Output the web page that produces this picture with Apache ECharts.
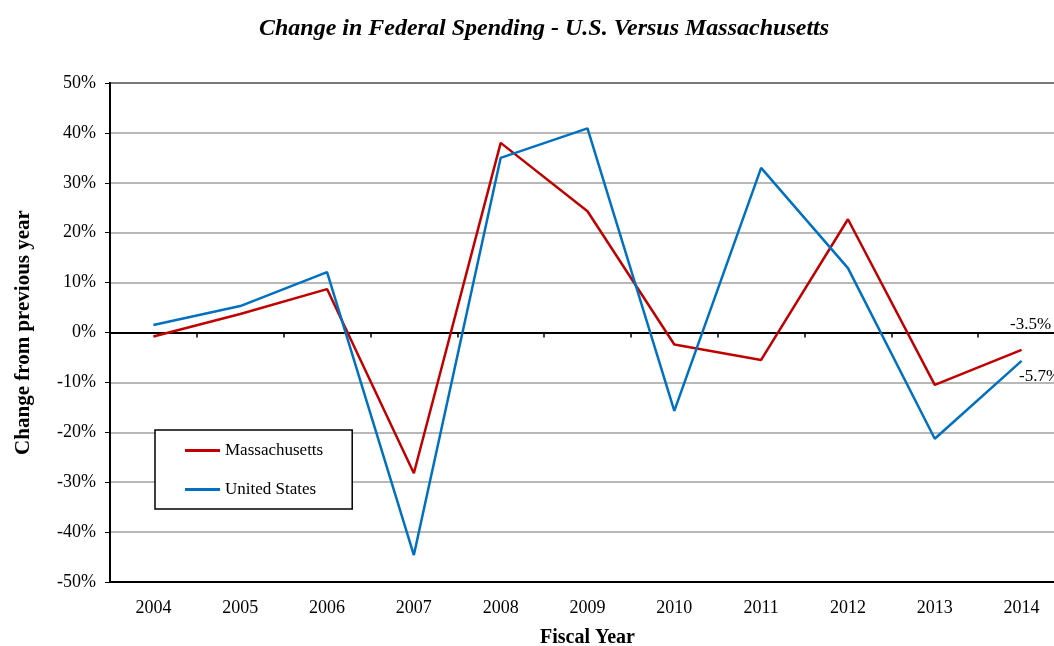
<!DOCTYPE html>
<html>
<head>
<meta charset="utf-8">
<title>Change in Federal Spending - U.S. Versus Massachusetts</title>
<script src="https://cdn.jsdelivr.net/npm/echarts@6/dist/echarts.min.js"></script>
<style>
  html, body { margin: 0; padding: 0; background: #ffffff; overflow: hidden; }
  #chart { width: 1054px; height: 646px; }
</style>
</head>
<body>
<div id="chart"></div>
<script>
// Fiscal years on the horizontal axis
const years = ['2004', '2005', '2006', '2007', '2008', '2009', '2010', '2011', '2012', '2013', '2014'];

// Year-over-year change in federal spending, percent
const massachusetts = [-0.8, 3.7, 8.7, -28.2, 38.0, 24.3, -2.4, -5.5, 22.7, -10.5, -3.5];
const unitedStates = [1.5, 5.3, 12.1, -44.6, 35.0, 40.9, -15.7, 33.0, 12.9, -21.3, -5.7];

// Value axis range and step, percent
const yMin = -50;
const yMax = 50;
const yStep = 10;

const SERIF = '"Liberation Serif", "Times New Roman", "DejaVu Serif", serif';
const RED = '#C00000';
const BLUE = '#0070C0';

// Only the final year carries a value label
function withEndLabel(values, labelStyle) {
  return values.map((v, i) => i === values.length - 1
    ? { value: v, label: Object.assign({ show: true }, labelStyle) }
    : v);
}

const chart = echarts.init(document.getElementById('chart'), null, { renderer: 'canvas' });

chart.setOption({
  backgroundColor: '#ffffff',
  animation: false,
  textStyle: { fontFamily: SERIF },
  title: {
    text: 'Change in Federal Spending - U.S. Versus Massachusetts',
    left: 539,
    top: 12,
    textAlign: 'center',
    textStyle: {
      fontFamily: SERIF,
      fontSize: 24,
      fontWeight: 'bold',
      fontStyle: 'italic',
      color: '#000000'
    }
  },
  legend: {
    orient: 'vertical',
    left: 155,
    top: 430,
    padding: [11, 29, 10, 30],
    itemGap: 20,
    itemWidth: 35,
    itemHeight: 3,
    icon: 'rect',
    borderColor: '#000000',
    borderWidth: 1.5,
    backgroundColor: '#ffffff',
    data: ['Massachusetts', 'United States'],
    textStyle: {
      fontFamily: SERIF,
      fontSize: 17,
      lineHeight: 19,
      color: '#000000'
    }
  },
  grid: {
    // the plot area runs a little past the right edge of the canvas
    left: 110,
    top: 83,
    width: 955,
    height: 499,
    outerBoundsMode: 'none',
    show: true,
    borderColor: '#000000',
    borderWidth: 2,
    backgroundColor: 'transparent'
  },
  xAxis: [
    {
      type: 'category',
      data: years,
      position: 'bottom',
      boundaryGap: true,
      name: 'Fiscal Year',
      nameLocation: 'middle',
      nameGap: 46,
      nameTextStyle: { fontFamily: SERIF, fontSize: 20, fontWeight: 'bold', color: '#000000' },
      axisLine: { show: true, onZero: false, lineStyle: { color: '#000000', width: 2 } },
      axisTick: { show: false },
      axisLabel: { fontFamily: SERIF, fontSize: 18, color: '#000000', margin: 17 }
    },
    {
      // zero line with category dividers
      type: 'category',
      data: years,
      position: 'top',
      boundaryGap: true,
      axisLine: { show: true, onZero: true, lineStyle: { color: '#000000', width: 2 } },
      axisTick: { show: true, inside: true, length: 5, lineStyle: { color: '#000000', width: 1.5 } },
      axisLabel: { show: false }
    }
  ],
  yAxis: {
    type: 'value',
    min: yMin,
    max: yMax,
    interval: yStep,
    name: 'Change from previous year',
    nameLocation: 'middle',
    nameGap: 76,
    nameTextStyle: { fontFamily: SERIF, fontSize: 21, fontWeight: 'bold', color: '#000000' },
    axisLine: { show: true, lineStyle: { color: '#000000', width: 2 } },
    axisTick: { show: true, length: 5, lineStyle: { color: '#000000', width: 1 } },
    axisLabel: {
      fontFamily: SERIF,
      fontSize: 18,
      color: '#000000',
      margin: 14,
      formatter: '{value}%'
    },
    splitLine: { show: true, lineStyle: { color: '#a0a0a0', width: 1.5 } }
  },
  series: [
    {
      name: 'Massachusetts',
      type: 'line',
      xAxisIndex: 0,
      data: withEndLabel(massachusetts, {
        position: 'top',
        offset: [9, -12],
        formatter: '{c}%',
        fontFamily: SERIF,
        fontSize: 17,
        color: '#000000'
      }),
      showSymbol: true,
      symbol: 'circle',
      symbolSize: 0.5,
      itemStyle: { color: RED },
      lineStyle: { color: RED, width: 2.5 },
      color: RED,
      z: 3
    },
    {
      name: 'United States',
      type: 'line',
      xAxisIndex: 0,
      data: withEndLabel(unitedStates, {
        position: 'bottom',
        offset: [18, 2],
        formatter: '{c}%',
        fontFamily: SERIF,
        fontSize: 17,
        color: '#000000'
      }),
      showSymbol: true,
      symbol: 'circle',
      symbolSize: 0.5,
      itemStyle: { color: BLUE },
      lineStyle: { color: BLUE, width: 2.5 },
      color: BLUE,
      z: 4
    }
  ]
});
</script>
</body>
</html>
